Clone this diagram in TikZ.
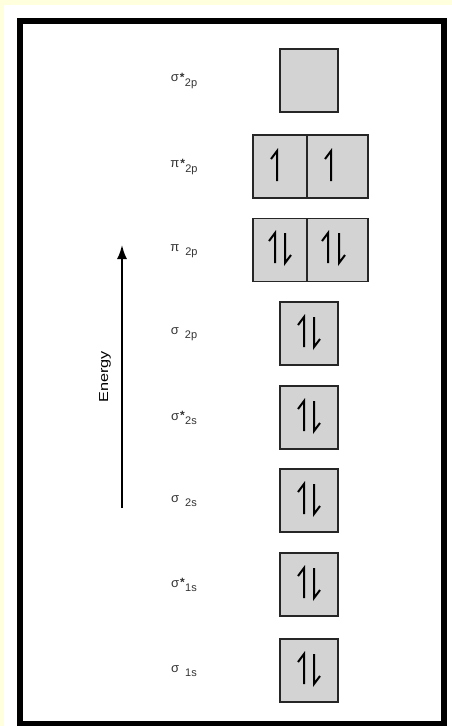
\documentclass[tikz,border=0pt]{standalone}
\usepackage{fontspec}
\setmainfont{Liberation Sans}
\usetikzlibrary{arrows.meta}
\definecolor{paleyellow}{RGB}{255,255,221}
\definecolor{boxgray}{RGB}{211,211,211}
\newcommand\orb[3]{#1\hspace{1pt}\raisebox{0.5pt}{\fontsize{12}{12}\selectfont\bfseries\makebox[5pt][l]{#2}}\raisebox{-4.5pt}{\fontsize{11}{11}\selectfont #3}}
\newcommand\harpup[2]{\draw[harp] (#1,#2+15) -- (#1,#2-15) -- (#1-6,#2-7);}
\newcommand\harpdn[2]{\draw[harp] (#1,#2-15) -- (#1,#2+15) -- (#1+6,#2+7);}
\begin{document}
\begin{tikzpicture}[x=1pt,y=-1pt,
  orbbox/.style={draw=black!85,line width=1.5pt,fill=boxgray,minimum height=63pt,inner sep=0pt,outer sep=0pt,rectangle},
  single/.style={orbbox,minimum width=58pt},
  lefthalf/.style={orbbox,minimum width=54pt},
  righthalf/.style={orbbox,minimum width=61pt},
  lab/.style={font=\fontsize{13}{13}\selectfont,inner sep=0pt,text=black!80},
  harp/.style={line width=2pt,line cap=butt,line join=miter},
  frame/.style={line width=6pt}]
\useasboundingbox (0,0) rectangle (452,726);
\fill[paleyellow] (0,0) rectangle (452,726);
\fill[white] (4,5) rectangle (452,726);
\draw[frame] (20,20.5) rectangle (444,723.5);

% sigma*2p
\node[single] (s2ps) at (309,80.5) {};
\node[lab] (l1) at (184,81) {\orb{σ}{*}{2p}};
% pi*2p
\node[lefthalf] (p2psa) at (280,166.5) {};
\node[righthalf] (p2psb) at (337.5,166.5) {};
\node[lab] (l2) at (184,167) {\orb{π}{*}{2p}};
\harpup{277}{166}
\harpup{331}{166}
% pi2p
\node[lefthalf] (p2pa) at (280,250) {};
\node[righthalf] (p2pb) at (337.5,250) {};
\node[lab] (l3) at (184,251) {\orb{π}{}{2p}};
\harpup{275}{248}\harpdn{285}{248}
\harpup{328}{248}\harpdn{339}{248}
% sigma2p
\node[single] (s2p) at (309,333.5) {};
\node[lab] (l4) at (184,334) {\orb{σ}{}{2p}};
\harpup{304}{332}\harpdn{314}{332}
% sigma*2s
\node[single] (s2ss) at (309,417.5) {};
\node[lab] (l5) at (184,418) {\orb{σ}{*}{2s}};
\harpup{304}{416}\harpdn{314}{416}
% sigma2s
\node[single] (s2s) at (309,500.5) {};
\node[lab] (l6) at (184,501) {\orb{σ}{}{2s}};
\harpup{304}{499}\harpdn{314}{499}
% sigma*1s
\node[single] (s1ss) at (309,584.5) {};
\node[lab] (l7) at (184,585) {\orb{σ}{*}{1s}};
\harpup{304}{583}\harpdn{314}{583}
% sigma1s
\node[single] (s1s) at (309,670.5) {};
\node[lab] (l8) at (184,671) {\orb{σ}{}{1s}};
\harpup{304}{669}\harpdn{314}{669}

% energy arrow
\coordinate (ebot) at (122,508);
\coordinate (etop) at (122,245);
\draw[line width=1.8pt,-{Latex[length=14pt,width=10pt]}] (ebot) -- (etop);
\node[rotate=90,font=\fontsize{13}{13}\selectfont,inner sep=0pt] (energy) at (105,377) {\scalebox{1.25}[1]{Energy}};
\end{tikzpicture}
\end{document}
